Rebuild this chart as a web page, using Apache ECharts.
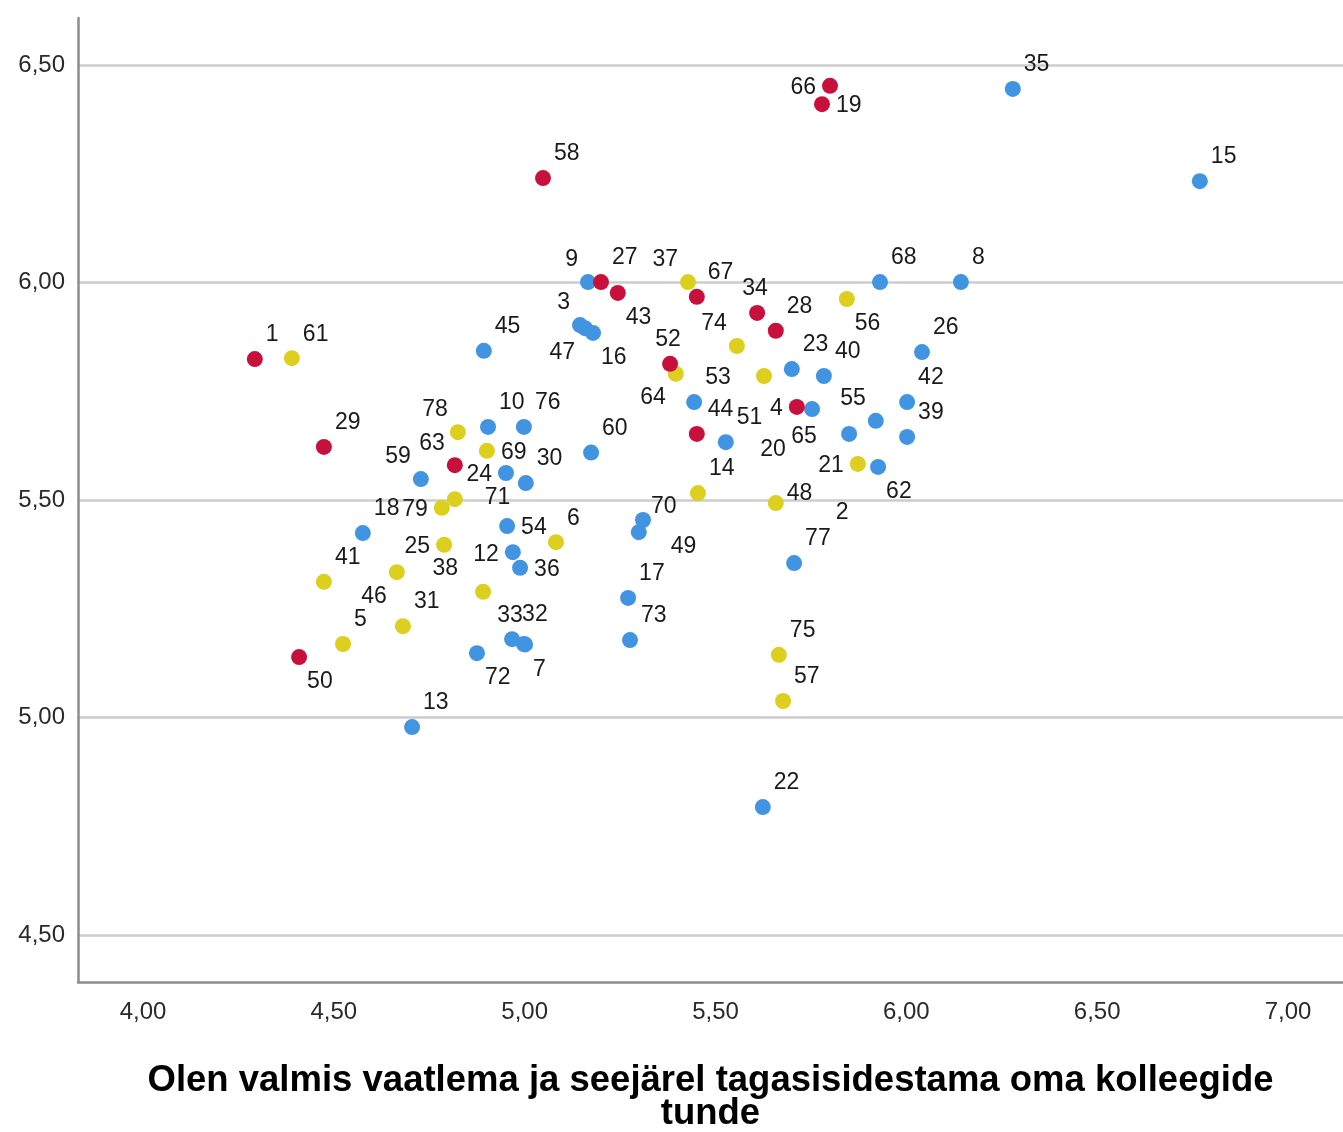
<!DOCTYPE html>
<html><head><meta charset="utf-8">
<script src="https://cdn.jsdelivr.net/npm/echarts@6/dist/echarts.min.js"></script>
<style>html,body{margin:0;padding:0;background:#fff}#c{width:1343px;height:1132px}</style>
</head><body><div id="c"></div>
<script>
// ---- data: [x, y, case id] ----
const xTicks = [4.0, 4.5, 5.0, 5.5, 6.0, 6.5, 7.0];
const yTicks = [4.5, 5.0, 5.5, 6.0, 6.5];
const xTitle = 'Olen valmis vaatlema ja seejärel tagasisidestama oma kolleegide\ntunde';

const redPoints = [
  [4.293, 5.824, 1], [5.048, 6.240, 58], [5.800, 6.452, 66], [5.779, 6.410, 19],
  [5.200, 6.001, 27], [5.244, 5.976, 43], [5.451, 5.967, 67], [5.609, 5.930, 34],
  [5.658, 5.889, 28], [5.381, 5.813, 52], [5.713, 5.714, 4], [5.451, 5.652, 44],
  [4.474, 5.622, 29], [4.817, 5.580, 63], [4.409, 5.139, 50]
];
const yellowPoints = [
  [4.390, 5.826, 61], [5.428, 6.001, 37], [5.556, 5.854, 74], [5.396, 5.790, 64],
  [5.627, 5.785, 20], [5.844, 5.962, 56], [5.873, 5.583, 21], [5.454, 5.516, 14],
  [5.658, 5.493, 48], [5.666, 5.144, 75], [5.677, 5.038, 57], [4.825, 5.656, 78],
  [4.901, 5.613, 69], [4.817, 5.502, 71], [4.783, 5.482, 79], [4.789, 5.397, 25],
  [4.665, 5.334, 46], [4.891, 5.289, 38], [4.474, 5.312, 41], [4.681, 5.210, 31],
  [4.524, 5.169, 5], [5.082, 5.403, 6]
];
const bluePoints = [
  [4.893, 5.843, 45], [5.166, 6.001, 9], [5.145, 5.902, 3], [5.158, 5.895, 47],
  [5.179, 5.884, 16], [5.931, 6.001, 68], [6.143, 6.001, 8], [6.041, 5.840, 26],
  [5.700, 5.801, 23], [5.784, 5.785, 40], [6.002, 5.725, 42], [6.002, 5.645, 39],
  [5.444, 5.725, 53], [5.753, 5.709, 65], [5.920, 5.682, 55], [5.850, 5.652, 2],
  [5.926, 5.576, 62], [5.527, 5.633, 51], [5.174, 5.609, 60], [4.904, 5.668, 10],
  [4.998, 5.668, 76], [4.728, 5.548, 59], [4.951, 5.562, 24], [5.003, 5.539, 30],
  [4.576, 5.424, 18], [4.954, 5.440, 54], [4.969, 5.380, 12], [4.988, 5.344, 36],
  [5.310, 5.454, 70], [5.299, 5.426, 49], [5.271, 5.275, 17], [5.276, 5.178, 73],
  [5.706, 5.355, 77], [4.875, 5.148, 72], [4.967, 5.180, 33], [4.998, 5.169, 32],
  [5.001, 5.168, 7], [4.705, 4.978, 13], [5.624, 4.794, 22], [6.279, 6.445, 35],
  [6.769, 6.233, 15]
];

// ---- label placement (style) ----
const placements = {
  tr: ['left', 11, -24], tl: ['right', -10, -22], r: ['left', 14, 2], l: ['right', -14, 2],
  t: ['center', -2, -24], br: ['left', 8, 25], bl: ['right', -10, 24]
};
const labelPlace = {
  9: 'tl', 3: 'tl', 37: 'tl', 59: 'tl', 63: 'tl', 78: 'tl', 74: 'tl', 55: 'tl',
  66: 'l', 4: 'l', 24: 'l', 12: 'l', 79: 'l', 21: 'l', 25: 'l',
  19: 'r', 69: 'r', 54: 'r', 36: 'r',
  43: 'br', 16: 'br', 56: 'br', 62: 'br', 50: 'br', 72: 'br', 7: 'br',
  47: 'bl', 46: 'bl', 64: 'bl',
  34: 't', 52: 't', 33: 't',
  48: ['left', 11, -9], 71: ['left', 30, -1], 49: ['left', 32, 14], 38: ['right', -25, -23],
  32: ['center', 11, -29], 2: ['center', -7, 79], 20: ['center', 9, 74], 65: ['center', -8, 28],
  70: ['left', 8, -13]
};

function build(points) {
  return points.map(p => {
    let pl = labelPlace[p[2]] || 'tr';
    if (typeof pl === 'string') pl = placements[pl];
    return {
      value: p,
      label: { show: true, position: 'inside', align: pl[0], verticalAlign: 'middle', offset: [pl[1], pl[2]] }
    };
  });
}

const fmt = v => v.toFixed(2).replace('.', ',');
const font = '"Liberation Sans", Arial, sans-serif';

function series(points, color, z) {
  return {
    type: 'scatter', data: build(points), symbol: 'circle', symbolSize: 16, z: z,
    itemStyle: { color: color, opacity: 1 },
    label: {
      show: true, position: 'inside',
      formatter: d => String(d.value[2]),
      color: '#1a1a1a', fontSize: 23, fontFamily: font
    },
    emphasis: { disabled: true }
  };
}

const chart = echarts.init(document.getElementById('c'), null, { renderer: 'canvas' });
chart.setOption({
  animation: false,
  backgroundColor: '#ffffff',
  grid: { left: 78, right: 0, top: 18, bottom: 150, containLabel: false, outerBoundsMode: 'none' },
  xAxis: {
    type: 'value', min: 3.8297, max: 7.1441,
    axisLine: { show: true, lineStyle: { color: '#8c8c8c', width: 2.5 } },
    axisTick: { show: false, customValues: xTicks },
    axisLabel: { customValues: xTicks, formatter: fmt, color: '#2a2a2a', fontSize: 24, fontFamily: font, margin: 18 },
    splitLine: { show: false },
    name: xTitle, nameLocation: 'middle', nameGap: 82,
    nameTextStyle: { fontSize: 36.5, fontWeight: 'bold', color: '#000', fontFamily: font, lineHeight: 33 }
  },
  yAxis: {
    type: 'value', min: 4.392, max: 6.608,
    axisLine: { show: true, lineStyle: { color: '#8c8c8c', width: 2.5 } },
    axisTick: { show: false, customValues: yTicks },
    axisLabel: { customValues: yTicks, formatter: fmt, color: '#2a2a2a', fontSize: 24, fontFamily: font, margin: 13 },
    splitLine: { show: true, lineStyle: { color: '#cdcdcd', width: 2.5 } }
  },
  series: [
    series(bluePoints, '#4194e2', 3),
    series(yellowPoints, '#dccf1e', 4),
    series(redPoints, '#c8103c', 5)
  ]
});
</script>
</body></html>
